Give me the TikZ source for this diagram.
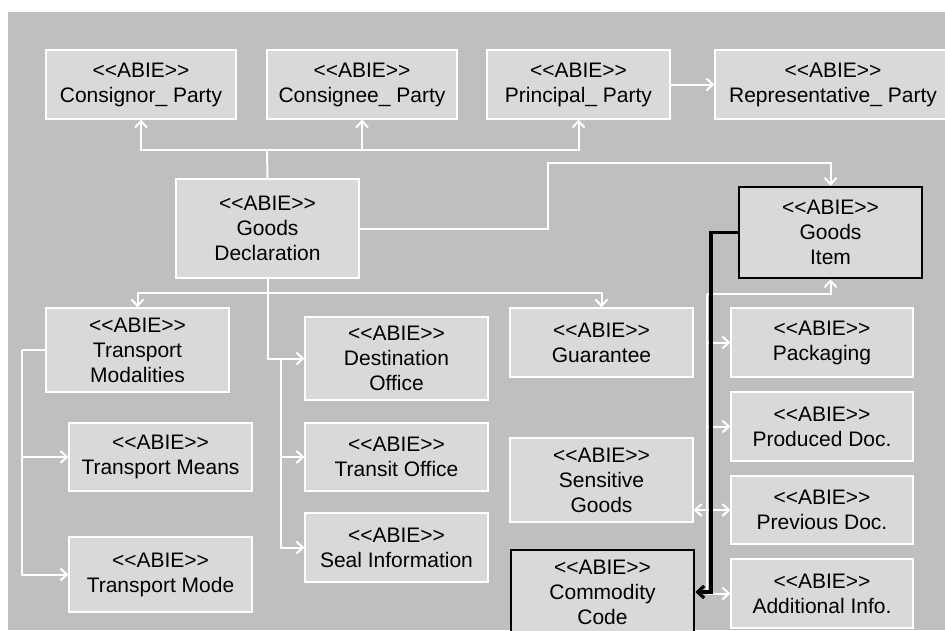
\documentclass[tikz,border=0pt]{standalone}
\usepackage{fontspec}
\setmainfont{Liberation Sans}
\usepackage{xcolor}
\usetikzlibrary{arrows.meta}
\definecolor{bggray}{HTML}{BFBFBF}
\definecolor{boxgray}{HTML}{D9D9D9}
\newcommand{\abie}{<{}<ABIE>{}>}

\begin{document}
\begin{tikzpicture}[x=1pt,y=-1pt,
        >={Straight Barb[length=6.5pt,width=12pt]},
        abie/.style={rectangle,fill=boxgray,draw=white,line width=1.2pt,
            minimum width=183pt,minimum height=69pt,inner sep=0pt,align=center,
            font=\fontsize{21}{25}\selectfont},
        keybox/.style={abie,draw=black,line width=2.6pt},
        wire/.style={draw=white,line width=2pt},
        keywire/.style={draw=black,line width=3.2pt}]
        \useasboundingbox (0,0) rectangle (945,630);
        \fill[white] (0,0) rectangle (945,630);
        \fill[bggray] (8,12) rectangle (945,630);
        % parties
        \node[abie,minimum width=190pt] (cp) at (141,84.5) {\abie\\Consignor\_ Party};
        \node[abie,minimum width=190pt] (ce) at (362,84.5) {\abie\\Consignee\_ Party};
        \node[abie] (pp) at (578.5,84.5) {\abie\\Principal\_ Party};
        \node[abie,minimum width=236pt] (rp) at (833,84.5) {\abie\\Representative\_ Party};
        % declaration and item
        \node[abie,minimum height=99pt] (gd) at (267.5,228.5) {\abie\\Goods\\Declaration};
        \node[keybox,minimum height=91pt] (gi) at (830.5,232.5) {\abie\\Goods\\Item};
        % transport
        \node[abie,minimum height=84pt] (tm) at (137.5,350) {\abie\\Transport\\Modalities};
        \node[abie,minimum height=68pt] (tmn) at (160.5,457) {\abie\\Transport Means};
        \node[abie,minimum height=75pt] (tmd) at (160.5,574.5) {\abie\\Transport Mode};
        % offices
        \node[abie,minimum height=83pt] (dofc) at (396.5,358.5) {\abie\\Destination\\Office};
        \node[abie,minimum height=68pt] (tofc) at (396.5,457) {\abie\\Transit Office};
        \node[abie] (si) at (396.5,547.5) {\abie\\Seal Information};
        \node[abie] (gu) at (601.5,342.5) {\abie\\Guarantee};
        \node[abie,minimum height=84pt] (sg) at (601.5,480) {\abie\\Sensitive\\Goods};
        \node[keybox,minimum height=84pt] (cc) at (602.5,592) {\abie\\Commodity\\Code};
        % item parts
        \node[abie,minimum width=182pt] (pk) at (822,342.5) {\abie\\Packaging};
        \node[abie,minimum width=182pt] (prd) at (822,426.5) {\abie\\Produced Doc.};
        \node[abie,minimum width=182pt,minimum height=68pt] (pvd) at (822,510) {\abie\\Previous Doc.};
        \node[abie,minimum width=182pt] (ai) at (822,593.5) {\abie\\Additional Info.};

        \coordinate (top) at (267,150);
        \coordinate (low) at (267,293);
        \coordinate (ofc) at (281,358.5);
        \coordinate (tmbus) at (22,350);
        \coordinate (gdbend) at (548,163);
        \coordinate (bus) at (707,294);
        \coordinate (kbus) at (711,232.5);

        \draw[wire] (gd.north) -- (top);
        \draw[wire,->] (top) -| (cp.south);
        \draw[wire,->] (top) -| (ce.south);
        \draw[wire,->] (top) -| (pp.south);
        \draw[wire,->] (pp.east) -- (rp.west);
        \draw[wire,->] (gd.east) -| (gdbend) -| (gi.north);
        \draw[wire,->] (gd.south) |- (dofc.west);
        \draw[wire,->] (low) -| (tm.north);
        \draw[wire,->] (low) -| (gu.north);
        \draw[wire,->] (ofc) |- (tofc.west);
        \draw[wire,->] (ofc) |- (si.west);
        \draw[wire] (tm.west) -- (tmbus);
        \draw[wire,->] (tmbus) |- (tmn.west);
        \draw[wire,->] (tmbus) |- (tmd.west);
        \draw[wire,->] (bus) -| (gi.south);
        \draw[wire] (bus) -- (bus |- ai.west);
        \draw[wire,->] (bus |- pk.west) -- (pk.west);
        \draw[wire,->] (bus |- prd.west) -- (prd.west);
        \draw[wire,->] (bus |- pvd.west) -- (pvd.west);
        \draw[wire,->] (bus |- ai.west) -- (ai.west);
        \draw[wire,->] (bus |- pvd.west) -- (sg.east |- pvd.west);
        \draw[keywire,->] (gi.west) -- (kbus) |- (cc.east);
\end{tikzpicture}
\end{document}
